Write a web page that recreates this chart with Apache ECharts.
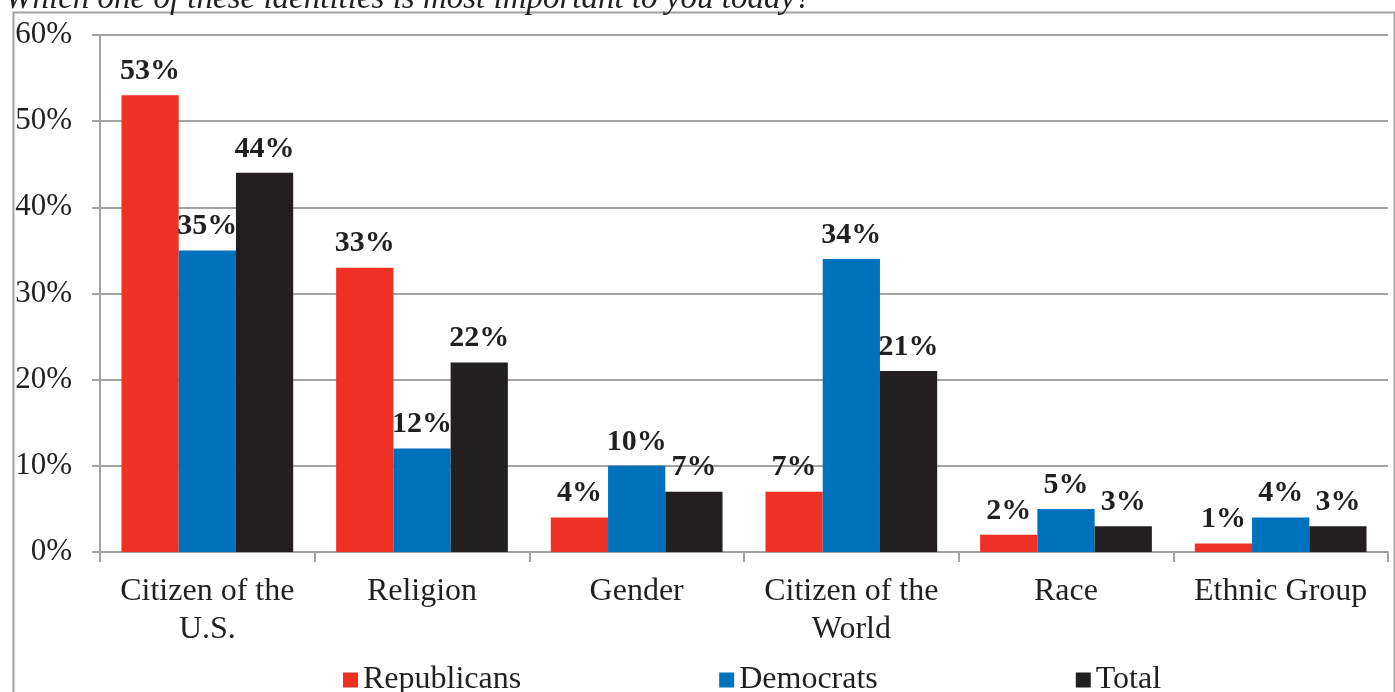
<!DOCTYPE html>
<html>
<head>
<meta charset="utf-8">
<script src="https://cdn.jsdelivr.net/npm/echarts@6/dist/echarts.min.js"></script>
<style>
  html, body { margin: 0; padding: 0; background: #fff; }
  #chart { width: 1395px; height: 692px; }
</style>
</head>
<body>
<div id="chart"></div>
<script>
// Survey: most important identity, by party
const titleText = 'Which one of these identities is most important to you today?';
const categories = ['Citizen of the\nU.S.', 'Religion', 'Gender', 'Citizen of the\nWorld', 'Race', 'Ethnic Group'];
const republicans = [53, 33, 4, 7, 2, 1];
const democrats = [35, 12, 10, 34, 5, 4];
const total = [44, 22, 7, 21, 3, 3];
const yTicks = [0, 10, 20, 30, 40, 50, 60];

const serif = '"Liberation Serif", "Times New Roman", serif';
const gray = '#a3a3a6';
const ink = '#231f20';

function barSeries(name, data, color) {
  return {
    name: name,
    type: 'bar',
    data: data,
    barGap: '0%',
    barCategoryGap: '20%',
    itemStyle: { color: color },
    label: {
      show: true,
      position: 'top',
      distance: 9,
      formatter: p => p.value + '%',
      fontFamily: serif,
      fontWeight: 'bold',
      fontSize: 30,
      color: ink
    }
  };
}

const chart = echarts.init(document.getElementById('chart'), null, { renderer: 'canvas' });
chart.setOption({
  animation: false,
  backgroundColor: '#fff',
  title: {
    text: titleText,
    left: 0,
    top: -22,
    textStyle: { fontFamily: serif, fontStyle: 'italic', fontWeight: 'normal', fontSize: 33, color: ink }
  },
  graphic: [{
    type: 'rect',
    left: 11, top: 10,
    shape: { width: 1381, height: 700 },
    style: { fill: 'none', stroke: gray, lineWidth: 2 },
    silent: true
  }],
  grid: { left: 100, right: 7, top: 35, bottom: 140 },
  legend: {
    left: 338,
    top: 659,
    itemGap: 198,
    itemWidth: 15,
    itemHeight: 15,
    icon: 'rect',
    textStyle: { fontFamily: serif, fontSize: 32, color: ink, padding: [0, 0, 0, 0] },
    data: ['Republicans', 'Democrats', 'Total']
  },
  xAxis: {
    type: 'category',
    data: categories,
    axisLine: { lineStyle: { color: gray, width: 2 } },
    axisTick: { show: true, length: 10, lineStyle: { color: gray, width: 2 } },
    axisLabel: { fontFamily: serif, fontSize: 32, color: ink, lineHeight: 38, margin: 21, interval: 0 }
  },
  yAxis: {
    type: 'value',
    min: 0,
    max: 60,
    interval: 10,
    axisLine: { show: true, lineStyle: { color: gray, width: 2 } },
    axisTick: { show: true, length: 8, lineStyle: { color: gray, width: 2 } },
    splitLine: { lineStyle: { color: gray, width: 2 } },
    axisLabel: {
      fontFamily: serif, fontSize: 31, color: ink, margin: 28,
      formatter: v => (yTicks.includes(v) ? v + '%' : '')
    }
  },
  series: [
    barSeries('Republicans', republicans, '#ee3124'),
    barSeries('Democrats', democrats, '#0071bc'),
    barSeries('Total', total, ink)
  ]
});
</script>
</body>
</html>
